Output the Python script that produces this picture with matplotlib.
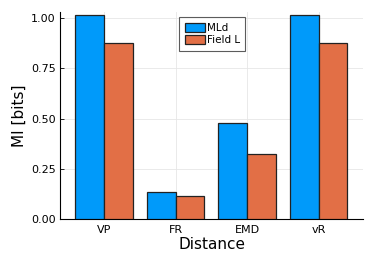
import numpy as np
import matplotlib
matplotlib.use("Agg")
import matplotlib.pyplot as plt

categories = ["VP", "FR", "EMD", "vR"]
mld = [1.015, 0.133, 0.478, 1.015]
field_l = [0.877, 0.116, 0.323, 0.877]
yticks = [0.0, 0.25, 0.5, 0.75, 1.0]

blue = "#009AFA"
orange = "#E26F46"

fig = plt.figure(figsize=(3.74, 2.62), dpi=100)
ax = fig.add_axes([60 / 374, 1 - 219 / 262, 303 / 374, 207 / 262])

x = np.arange(len(categories))
w = 0.4
ax.bar(x - w / 2, mld, w, color=blue, edgecolor="#222222", linewidth=0.9, label="MLd", zorder=3)
ax.bar(x + w / 2, field_l, w, color=orange, edgecolor="#222222", linewidth=0.9, label="Field L", zorder=3)

ax.set_xlim(-0.615, 3.62)
ax.set_ylim(0, 1.03)
ax.set_xticks(x)
ax.set_xticklabels(categories)
ax.set_yticks(yticks)
ax.set_yticklabels([f"{t:.2f}" for t in yticks])
ax.tick_params(labelsize=8, direction="in", length=3, width=0.6, pad=3)
ax.tick_params(axis="x", length=0, pad=4)

ax.grid(True, color="#e6e6e6", linewidth=0.6, zorder=0)
for s in ["top", "right"]:
    ax.spines[s].set_visible(False)
for s in ["left", "bottom"]:
    ax.spines[s].set_linewidth(0.8)

ax.set_xlabel("Distance", fontsize=11, labelpad=2)
ax.set_ylabel("MI [bits]", fontsize=11, labelpad=3)

leg = ax.legend(loc="upper left", bbox_to_anchor=(119 / 303, 0.975), fontsize=7.5,
                frameon=True, fancybox=False, edgecolor="#333333",
                handlelength=1.9, handleheight=0.9, handletextpad=0.2,
                borderpad=0.55, labelspacing=0.2, borderaxespad=0)
leg.get_frame().set_linewidth(0.8)

fig.savefig("out.png", dpi=100)
